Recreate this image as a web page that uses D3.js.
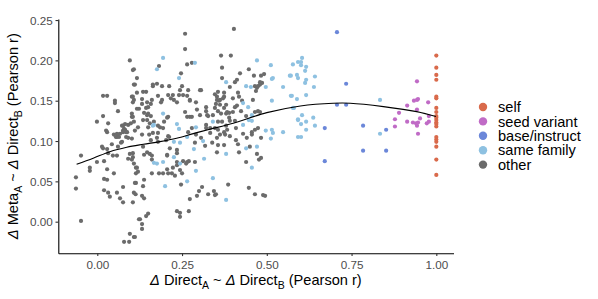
<!DOCTYPE html>
<html>
<head>
<meta charset="utf-8">
<script src="https://cdn.jsdelivr.net/npm/d3@7"></script>
<style>
  html, body { margin: 0; padding: 0; background: #fff; }
  svg { display: block; font-family: "Liberation Sans", Arial, sans-serif; }
</style>
</head>
<body>
<div id="chart"></div>
<script>
// ---- Data ------------------------------------------------------------------
const categories = ['self', 'seed variant', 'base/instruct', 'same family', 'other'];
const colors     = ['#d96a4b', '#c06bc6', '#6b87d9', '#8ec1e1', '#6b6b6b'];

const xTicks = [0, 0.25, 0.5, 0.75, 1];
const yTicks = [0, 0.05, 0.1, 0.15, 0.2, 0.25];

// self: all at x = 1.00
const selfY = [.206, .191, .182, .176, .155, .153, .141, .136, .131, .129, .126, .123, .121,
               .118, .105, .102, .099, .093, .077, .058];

const seedPts = [[.943,.174],[.934,.150],[.943,.151],[.946,.152],[.976,.148],[.914,.144],[.943,.139],
  [.890,.135],[.878,.127],[.914,.124],[.931,.123],[.940,.122],[.946,.123],[.952,.128],[.978,.131],
  [.978,.124],[.878,.118],[.943,.119],[.972,.122],[.946,.109]];

const basePts = [[.707,.235],[.734,.171],[.707,.145],[.734,.145],[.671,.116],[.784,.119],
  [.852,.114],[.671,.075],[.784,.088],[.852,.088]];

const familyPts = [[.194,.203],[.176,.189],[.288,.197],[.241,.178],[.194,.134],[.167,.120],[.235,.121],
  [.241,.115],[.291,.117],[.341,.124],[.471,.200],[.512,.194],[.577,.195],[.592,.198],[.515,.177],
  [.571,.181],[.589,.182],[.592,.178],[.380,.173],[.453,.167],[.497,.167],[.548,.167],[.515,.150],
  [.571,.156],[.589,.152],[.430,.147],[.445,.142],[.456,.132],[.580,.141],[.447,.126],[.456,.125],
  [.430,.120],[.515,.114],[.548,.111],[.592,.126],[.604,.203],[.601,.198],[.601,.194],[.616,.192],
  [.613,.187],[.568,.181],[.642,.180],[.616,.176],[.613,.172],[.639,.167],[.574,.156],[.616,.157],
  [.834,.151],[.577,.141],[.604,.132],[.592,.127],[.601,.121],[.616,.124],[.637,.129],[.642,.119],
  [.616,.114],[.601,.105],[.834,.109],[.226,.099],[.244,.098],[.265,.105],[.312,.100],[.285,.090],
  [.167,.073],[.176,.072],[.194,.074],[.226,.080],[.244,.072],[.315,.078],[.291,.063],[.265,.050],
  [.341,.054],[.200,.044],[.380,.084],[.439,.091],[.471,.093],[.456,.067],[.497,.113],[.518,.110],
  [.512,.103],[.380,.027],[.592,.105],[.164,.119],[.439,.168],[.518,.178]];

const otherPts = [[.259,.233],[.403,.239],[.259,.214],[.096,.200],[.182,.193],[.265,.195],[.279,.197],
  [.365,.206],[.108,.189],[.117,.178],[.108,.170],[.117,.160],[.102,.155],[.017,.156],[.029,.156],
  [.052,.150],[.052,.147],[.061,.137],[.117,.140],[.102,.134],[.102,.130],[.017,.131],[-.001,.124],
  [.032,.122],[.099,.122],[.108,.124],[.076,.119],[.091,.120],[.026,.113],[.076,.113],[.082,.114],
  [.058,.109],[.247,.184],[.164,.168],[.191,.168],[.212,.168],[.250,.168],[.144,.161],[.179,.156],
  [.191,.151],[.188,.148],[.209,.157],[.217,.153],[.241,.157],[.226,.151],[.235,.148],[.265,.156],
  [.273,.150],[.291,.148],[.306,.163],[.132,.152],[.132,.146],[.158,.146],[.144,.141],[.123,.140],
  [.150,.134],[.158,.131],[.209,.130],[.167,.124],[.179,.119],[.197,.124],[.150,.117],[.259,.136],
  [.265,.130],[.273,.130],[.321,.142],[.321,.137],[.327,.131],[.341,.132],[.353,.155],[.353,.151],
  [.350,.146],[.321,.120],[.321,.116],[.333,.116],[.394,.206],[.368,.191],[.447,.189],[.421,.184],
  [.492,.183],[.368,.178],[.462,.181],[.483,.181],[.406,.173],[.412,.176],[.486,.172],[.391,.167],
  [.465,.168],[.474,.168],[.480,.170],[.468,.162],[.415,.160],[.374,.160],[.374,.155],[.347,.158],
  [.356,.161],[.400,.153],[.359,.150],[.362,.145],[.427,.150],[.406,.142],[.374,.141],[.380,.145],
  [.347,.141],[.356,.137],[.400,.136],[.424,.137],[.439,.131],[.465,.136],[.474,.137],[.480,.136],
  [.365,.134],[.380,.134],[.389,.129],[.391,.125],[.356,.124],[.368,.124],[.406,.125],[.380,.119],
  [.347,.116],[.356,.114],[.409,.116],[.474,.116],[.465,.114],[-.048,.082],[-.063,.055],[-.063,.041],
  [-.048,.001],[-.022,.067],[-.022,.063],[-.001,.074],[.020,.075],[.017,.091],[.029,.090],[.029,.065],
  [.029,.052],[.020,.039],[.049,.060],[.032,.085],[.046,.082],[.043,.096],[.058,.105],[.067,.109],
  [.073,.099],[.058,.082],[.091,.078],[.096,.084],[.105,.085],[.105,.080],[.102,.077],[.108,.072],
  [.114,.067],[.114,.060],[.114,.048],[.108,.036],[.105,.024],[.076,.043],[.058,.036],[.067,.029],
  [.096,-.015],[.108,-.019],[.079,-.025],[.094,-.025],[.123,.003],[.076,.111],[.085,.111],[.055,.105],
  [.061,.108],[.085,.105],[.091,.104],[.102,.103],[.111,.113],[.132,.108],[.153,.108],[.158,.101],
  [.176,.104],[.179,.099],[.203,.101],[.212,.105],[.164,.110],[.179,.110],[.209,.106],[.288,.098],
  [.138,.083],[.155,.084],[.161,.077],[.206,.082],[.235,.089],[.235,.085],[.214,.091],[.235,.074],
  [.235,.070],[.253,.075],[.265,.074],[.270,.075],[.262,.072],[.288,.074],[.117,.067],[.120,.062],
  [.111,.048],[.138,.052],[.161,.060],[.182,.060],[.194,.060],[.206,.065],[.220,.060],[.229,.057],
  [.244,.064],[.250,.060],[.223,.067],[.135,.044],[.113,.034],[.132,.032],[.138,.029],[.247,.046],
  [.309,.043],[.300,.038],[.294,.032],[.273,.028],[.327,.034],[.344,.038],[.350,.034],[.235,.013],
  [.244,.011],[.244,.006],[.270,.013],[.144,.007],[.150,.010],[.126,.003],[.132,-.003],[.132,-.009],
  [.111,-.019],[.353,.104],[.362,.108],[.377,.108],[.374,.111],[.383,.114],[.356,.095],[.374,.095],
  [.353,.086],[.415,.096],[.418,.086],[.450,.093],[.456,.108],[.456,.111],[.471,.084],[.483,.079],
  [.477,.077],[.439,.074],[.483,.104],[.386,.046],[.347,.033],[.447,.042],[.465,.034],[.489,.033],
  [.495,.032],[.029,.111],[.049,.108],[.064,.105],[.073,.119],[.082,.121],[.079,.115],[.088,.111],
  [.105,.130],[.105,.155],[.108,.151],[.105,.148],[.105,.188],[.111,.170],[.135,.161],[.147,.148],
  [.150,.142],[.138,.135],[.147,.132],[.135,.126],[.147,.126],[.155,.122],[.120,.117],[.164,.170],
  [.176,.171],[.161,.151],[.223,.157],[.206,.129],[.185,.117],[.194,.116],[.244,.163],[.253,.157],
  [.268,.163],[.303,.163],[.273,.151],[.294,.139],[.279,.130],[.303,.132],[.268,.111],[.279,.116],
  [.324,.132],[.362,.151],[.371,.153],[.383,.136],[.389,.135],[.412,.144],[.418,.155],[.459,.151],
  [.471,.166],[.480,.173],[.014,.093],[.020,.053],[.032,.036],[.037,.031],[.061,.093],[.070,.098],
  [.076,.024],[.135,.093],[.147,.086],[.161,.082],[.206,.083],[.209,.060],[.291,.108],[.306,.104],
  [.333,.110],[.339,.098],[.318,.094],[.430,.109],[.441,.104],[.409,.101],[.391,.106]];

// smooth trend line, sampled along the curve
const trendX = [-.061, -.012, .037, .087, .136, .185, .234, .283, .332, .401, .500, .599, .696, .746, .844, .942, .999];
const trendY = [.0712, .0787, .0868, .0923, .0960, .0993, .1035, .1092, .1146, .1221, .1352, .1435, .1469, .1469, .1427, .1365, .1303];

// ---- Layout -----------------------------------------------------------------
const W = 598, H = 299;
const svg = d3.select('#chart').append('svg').attr('width', W).attr('height', H);

const x = d3.scaleLinear().domain([-0.115, 1.0507]).range([58.3, 453.5]);
const y = d3.scaleLinear().domain([-0.0392, 0.2513]).range([253.3, 19]);

// ---- Points -----------------------------------------------------------------
const groups = [
  { key: 'other',         pts: otherPts },
  { key: 'same family',   pts: familyPts },
  { key: 'base/instruct', pts: basePts },
  { key: 'seed variant',  pts: seedPts },
  { key: 'self',          pts: selfY.map(v => [1, v]) }
];
const color = d3.scaleOrdinal().domain(categories).range(colors);

const plot = svg.append('g').attr('class', 'points');
groups.forEach(g => {
  plot.selectAll(null).data(g.pts).enter().append('circle')
    .attr('cx', d => x(d[0]))
    .attr('cy', d => y(d[1]))
    .attr('r', 2.1)
    .attr('fill', color(g.key));
});

// trend
const line = d3.line().x(d => x(d[0])).y(d => y(d[1])).curve(d3.curveCatmullRom);
svg.append('path')
  .datum(d3.zip(trendX, trendY))
  .attr('d', line)
  .attr('fill', 'none')
  .attr('stroke', '#000')
  .attr('stroke-width', 1.1);

// ---- Axes -------------------------------------------------------------------
const xAxis = svg.append('g').attr('transform', `translate(0,${y.range()[0]})`)
  .call(d3.axisBottom(x).tickValues(xTicks).tickFormat(d3.format('.2f')).tickSize(2.8).tickSizeOuter(0));
const yAxis = svg.append('g').attr('transform', `translate(${x.range()[0]},0)`)
  .call(d3.axisLeft(y).tickValues(yTicks).tickFormat(d3.format('.2f')).tickSize(2.8).tickSizeOuter(0));

[xAxis, yAxis].forEach(a => {
  a.select('.domain').attr('stroke', '#000').attr('stroke-width', 1.1);
  a.selectAll('.tick line').attr('stroke', '#333').attr('stroke-width', 1.1);
  a.selectAll('.tick text').attr('fill', '#4d4d4d').attr('font-size', 11.7)
    .attr('font-family', '"Liberation Sans", Arial, sans-serif');
});
xAxis.selectAll('.tick text').attr('dy', null).attr('y', 15.5);
yAxis.selectAll('.tick text').attr('x', -5.5).attr('dy', '0.36em');

// ---- Axis titles ------------------------------------------------------------
function title(sel, a, b) {
  // Δ a_sub ~ Δ b_sub (Pearson r)
  sel.append('tspan').attr('font-style', 'italic').text('Δ');
  sel.append('tspan').text(' ' + a[0]);
  sel.append('tspan').attr('font-size', 10.5).attr('dy', 3.5).text(a[1]);
  sel.append('tspan').attr('dy', -3.5).text(' ~ ');
  sel.append('tspan').attr('font-style', 'italic').text('Δ');
  sel.append('tspan').text(' ' + b[0]);
  sel.append('tspan').attr('font-size', 10.5).attr('dy', 3.5).text(b[1]);
  sel.append('tspan').attr('dy', -3.5).text(' (Pearson r)');
}

const xTitle = svg.append('text')
  .attr('x', (x.range()[0] + x.range()[1]) / 2).attr('y', 285)
  .attr('text-anchor', 'middle').attr('font-size', 14.6).attr('fill', '#000');
title(xTitle, ['Direct', 'A'], ['Direct', 'B']);

const yTitle = svg.append('text')
  .attr('transform', `translate(18,${(y.range()[0] + y.range()[1]) / 2}) rotate(-90)`)
  .attr('text-anchor', 'middle').attr('font-size', 14.6).attr('fill', '#000');
title(yTitle, ['Meta', 'A'], ['Direct', 'B']);

// ---- Legend -----------------------------------------------------------------
const legend = svg.append('g').attr('transform', 'translate(483,107)');
const item = legend.selectAll('g').data(categories).enter().append('g')
  .attr('transform', (d, i) => `translate(0,${i * 14.4})`);
item.append('circle').attr('r', 4.2).attr('fill', d => color(d));
item.append('text').attr('x', 15).attr('dy', '0.36em')
  .attr('font-size', 14.6).attr('fill', '#000').text(d => d);
</script>
</body>
</html>
